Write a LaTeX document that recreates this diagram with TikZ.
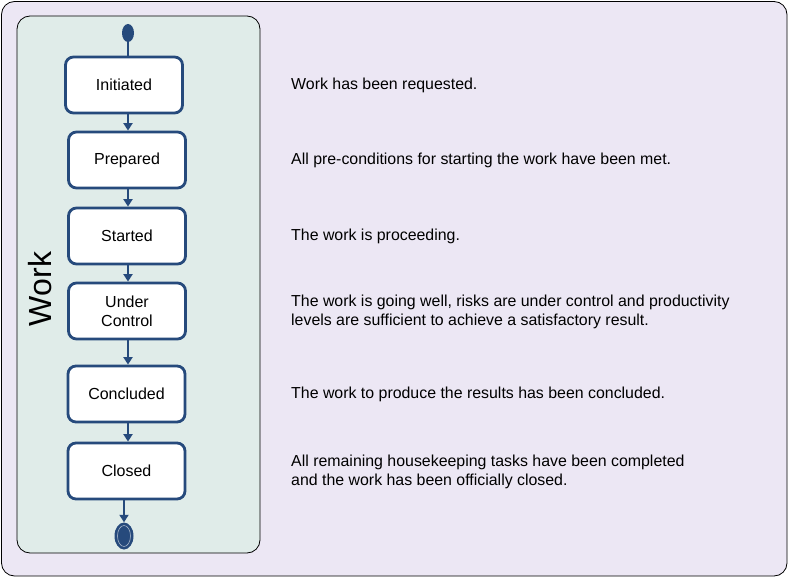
\documentclass[tikz,border=0pt]{standalone}
\usepackage{fontspec}
\setmainfont{Liberation Sans}
\usepackage{tikz}
\usetikzlibrary{shapes.geometric, arrows.meta, positioning}
\definecolor{stateblue}{RGB}{38,74,124}
\definecolor{pagelilac}{RGB}{236,231,244}
\definecolor{panelgreen}{RGB}{224,236,233}

\begin{document}
\begin{tikzpicture}[
    x=1pt, y=-1pt,
    statebox/.style={draw=stateblue, line width=2.8pt, fill=white, minimum width=117pt, minimum height=56pt, rounded corners=8pt, font=\fontsize{16}{19}\selectfont, align=center, inner sep=0pt},
    desc/.style={anchor=west, align=left, font=\fontsize{15.9}{19}\selectfont, inner sep=0pt},
    arrow/.style={-{Triangle[length=7.5pt, width=9pt]}, line width=2pt, draw=stateblue}
]
    \useasboundingbox (0,0) rectangle (790,578);
    % Frames
    \draw[fill=pagelilac, rounded corners=13pt, line width=0.8pt] (1.5,1.5) rectangle (787,576);
    \draw[fill=panelgreen, rounded corners=13pt, line width=0.8pt] (17,16) rectangle (260,553);
    \node[rotate=90, font=\fontsize{32}{32}\selectfont] (title) at (40,289) {Work};

    % States
    \node[ellipse, fill=stateblue, minimum width=12pt, minimum height=18pt, inner sep=0pt] (top) at (128,33) {};
    \node[statebox] (w1) at (124,85) {Initiated};
    \node[statebox] (w2) at (127,160) {Prepared};
    \node[statebox] (w3) at (127,236) {Started};
    \node[statebox] (w4) at (127,311) {Under\\Control};
    \node[statebox] (w5) at (126.5,394) {Concluded};
    \node[statebox] (w6) at (126.5,471) {Closed};
    \node[ellipse, fill=stateblue, minimum width=19pt, minimum height=27pt, inner sep=0pt] (bottom) at (124,536) {};
    \node[ellipse, draw=white!60!stateblue, line width=0.6pt, minimum width=13pt, minimum height=21pt, inner sep=0pt] at (bottom) {};

    % Arrows
    \draw[line width=2pt, stateblue] (top) -- (w1.north -| top);
    \draw[arrow] (w1.south -| top) -- (w2.north -| top);
    \draw[arrow] (w2.south -| top) -- (w3.north -| top);
    \draw[arrow] (w3.south -| top) -- (w4.north -| top);
    \draw[arrow] (w4.south -| top) -- (w5.north -| top);
    \draw[arrow] (w5.south -| top) -- (w6.north -| top);
    \draw[arrow] (w6.south -| bottom) -- (bottom.north);

    % Descriptions
    \node[desc] (d1) at (291,85) {Work has been requested.};
    \node[desc] (d2) at (291,160) {All pre-conditions for starting the work have been met.};
    \node[desc] (d3) at (291,236) {The work is proceeding.};
    \node[desc] (d4) at (291,312) {The work is going well, risks are under control and productivity\\levels are sufficient to achieve a satisfactory result.};
    \node[desc] (d5) at (291,394) {The work to produce the results has been concluded.};
    \node[desc] (d6) at (291,472) {All remaining housekeeping tasks have been completed\\and the work has been officially closed.};
\end{tikzpicture}
\end{document}
